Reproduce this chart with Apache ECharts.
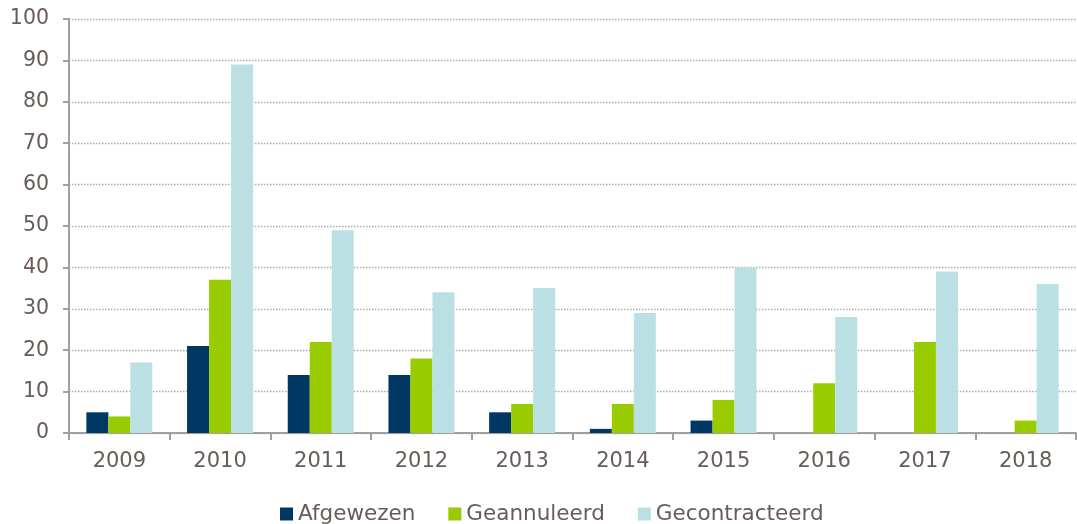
<!DOCTYPE html>
<html><head><meta charset="utf-8">
<script src="https://cdn.jsdelivr.net/npm/echarts@6/dist/echarts.min.js"></script>
<style>html,body{margin:0;padding:0;background:#fff}#c{width:1077px;height:524px}</style>
</head><body><div id="c"></div>
<script>
const categories = ['2009','2010','2011','2012','2013','2014','2015','2016','2017','2018'];
const afgewezen = [5, 21, 14, 14, 5, 1, 3, 0, 0, 0];
const geannuleerd = [4, 37, 22, 18, 7, 7, 8, 12, 22, 3];
const gecontracteerd = [17, 89, 49, 34, 35, 29, 40, 28, 39, 36];
const seriesNames = ['Afgewezen', 'Geannuleerd', 'Gecontracteerd'];
const yTicks = [0, 10, 20, 30, 40, 50, 60, 70, 80, 90, 100];

const textColor = '#675c58';
const font = 'DejaVu Sans, Verdana, sans-serif';
const colors = ['#003763', '#99cc00', '#bbe0e3'];
const chart = echarts.init(document.getElementById('c'), null, {renderer: 'canvas'});
const data = [afgewezen, geannuleerd, gecontracteerd];
chart.setOption({
  animation: false,
  color: colors,
  grid: {left: 69, right: 1, top: 19, bottom: 91, containLabel: false},
  legend: {
    top: 498, left: 275,
    itemWidth: 13, itemHeight: 13, itemGap: 33,
    icon: 'rect',
    textStyle: {color: textColor, fontSize: 21.5, fontFamily: font, padding: [0,0,0,0]},
    data: seriesNames
  },
  xAxis: {
    type: 'category', data: categories,
    axisLine: {lineStyle: {color: '#a0a0a0', width: 2}},
    axisTick: {show: true, length: 7, lineStyle: {color: '#a0a0a0', width: 2}, alignWithLabel: false},
    axisLabel: {color: textColor, fontSize: 21, fontFamily: font, margin: 18}
  },
  yAxis: {
    type: 'value', min: yTicks[0], max: yTicks[yTicks.length-1], interval: 10,
    axisLine: {show: true, lineStyle: {color: '#a0a0a0', width: 2}},
    axisTick: {show: true, length: 6, lineStyle: {color: '#a0a0a0', width: 2}},
    axisLabel: {color: textColor, fontSize: 20.5, fontFamily: font, margin: 20},
    splitLine: {show: true, lineStyle: {color: '#ababab', type: [1.5, 1.5], width: 1.3}}
  },
  series: seriesNames.map((n, i) => ({
    name: n, type: 'bar', data: data[i],
    barWidth: 22, barGap: '0%',
    itemStyle: {color: colors[i], borderWidth: 0}
  }))
});
</script></body></html>
